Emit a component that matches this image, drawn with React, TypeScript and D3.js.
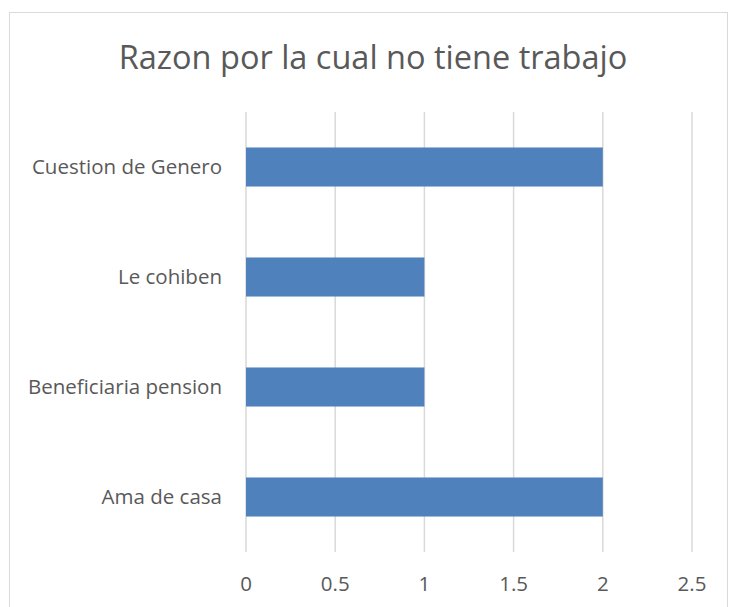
import React from "react";
import * as d3 from "d3";

const categories = ["Cuestion de Genero", "Le cohiben", "Beneficiaria pension", "Ama de casa"];
const values = [2, 1, 1, 2];
const ticks = [0, 0.5, 1, 1.5, 2, 2.5];
const title = "Razon por la cual no tiene trabajo";

export default function App() {
  const W = 730, H = 607;
  const x = d3.scaleLinear().domain([0, 2.5]).range([246, 692]);
  const y = d3.scaleBand().domain(categories).range([112, 552]).paddingInner(0.645).paddingOuter(0.3225);
  const font = "'Open Sans', sans-serif";
  return (
    <svg width={W} height={H} style={{ position: "absolute", left: 0, top: 0 }}>
      <rect x={0} y={0} width={W} height={H} fill="#fff" />
      <rect x={9.5} y={12.5} width={718} height={620} fill="#fff" stroke="#d9d9d9" strokeWidth={1} />
      <text x={373} y={69} textAnchor="middle" fontFamily={font} fontSize={32.5} fill="#595959">{title}</text>
      {ticks.map((t) => (
        <g key={t}>
          <line x1={x(t)} x2={x(t)} y1={112} y2={552} stroke="#d9d9d9" strokeWidth={1.5} />
          <text x={x(t)} y={591} textAnchor="middle" fontFamily={font} fontSize={20.5} fill="#595959">{t}</text>
        </g>
      ))}
      {categories.map((c, i) => (
        <g key={c}>
          <rect x={x(0)} y={y(c)!} width={x(values[i]) - x(0)} height={y.bandwidth()} fill="#4f81bd" />
          <text x={222} y={y(c)! + y.bandwidth() / 2} dy="0.35em" textAnchor="end" fontFamily={font} fontSize={20.5} fill="#595959">{c}</text>
        </g>
      ))}
    </svg>
  );
}
